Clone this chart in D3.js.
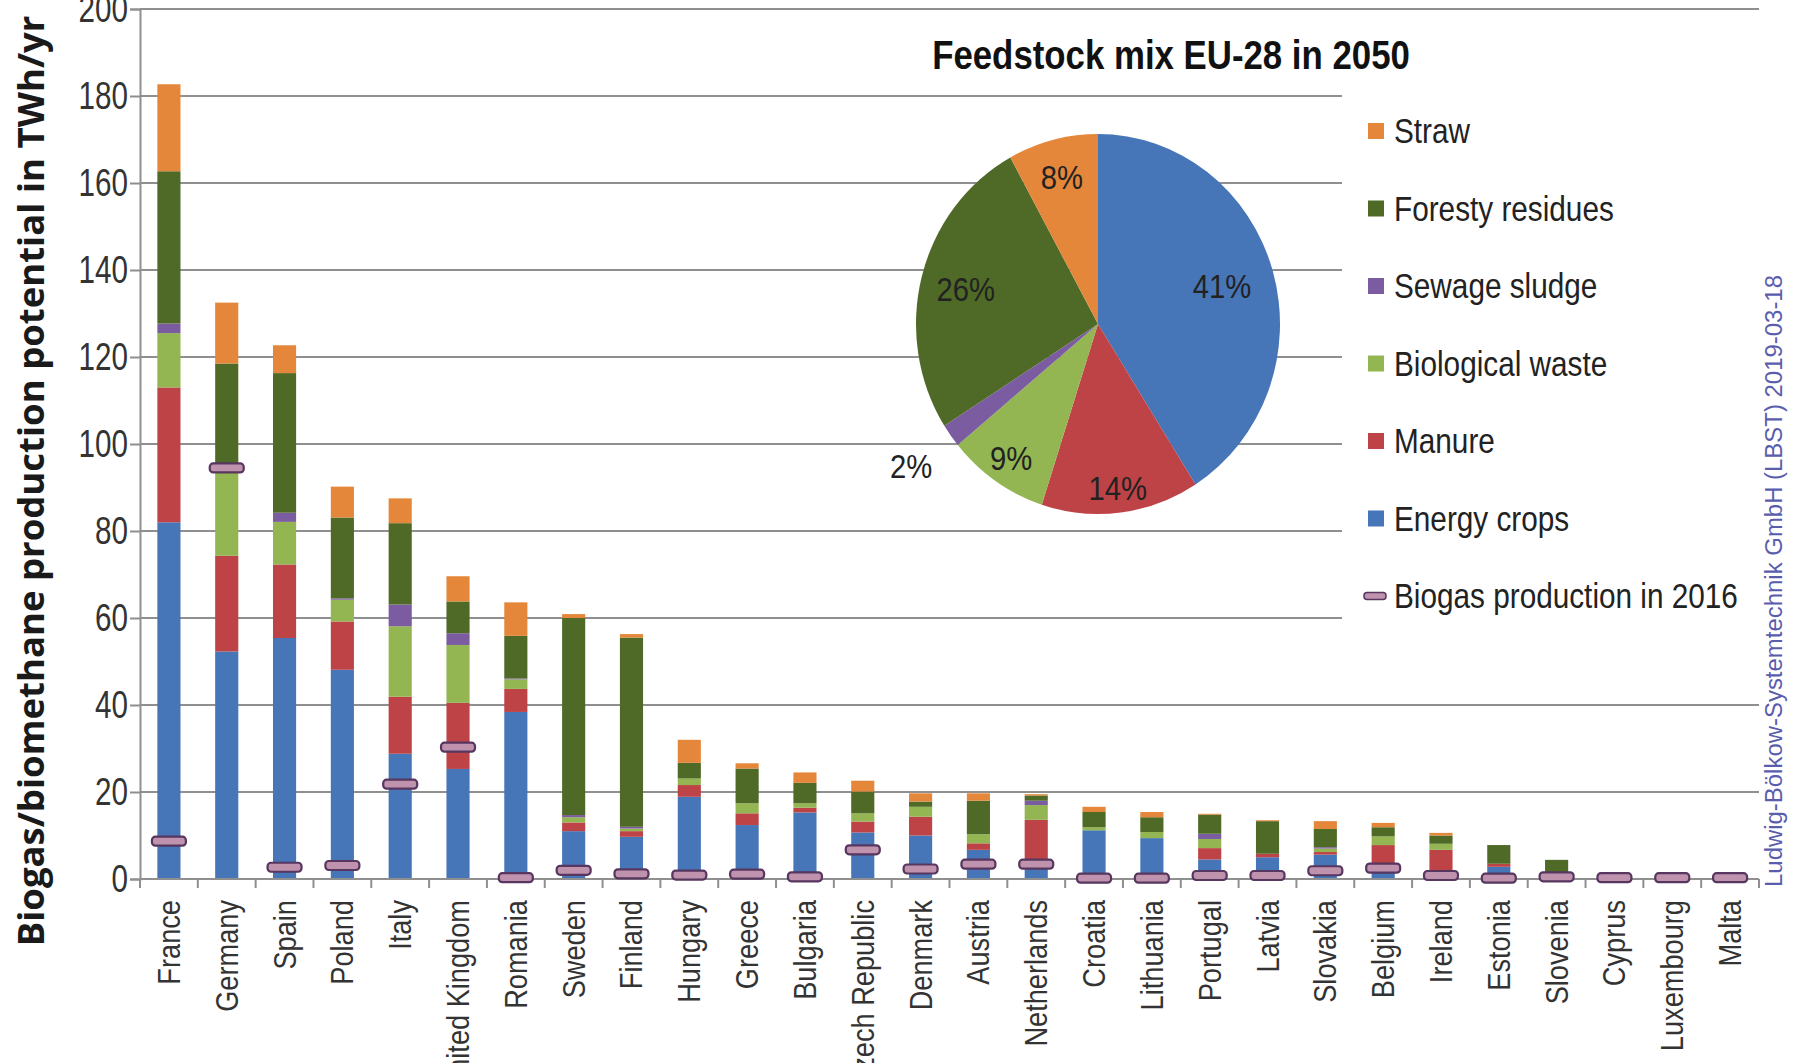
<!DOCTYPE html>
<html>
<head>
<meta charset="utf-8">
<script src="https://cdn.jsdelivr.net/npm/d3@7"></script>
<style>
  html, body { margin: 0; padding: 0; background: #fff; }
  svg { display: block; }
  text { font-family: "Liberation Sans", Arial, sans-serif; fill: #222; }
</style>
</head>
<body>
<svg id="chart" width="1797" height="1063"></svg>
<script>
// Biogas/biomethane production potential per EU-28 country in 2050 (TWh/yr)
const categories = ["France", "Germany", "Spain", "Poland", "Italy", "United Kingdom", "Romania",
  "Sweden", "Finland", "Hungary", "Greece", "Bulgaria", "Czech Republic", "Denmark", "Austria",
  "Netherlands", "Croatia", "Lithuania", "Portugal", "Latvia", "Slovakia", "Belgium", "Ireland",
  "Estonia", "Slovenia", "Cyprus", "Luxembourg", "Malta"];

const energyCrops     = [82, 52.3, 55.4, 48.1, 28.8, 25.3, 38.4, 11.0, 9.7, 18.9, 12.4, 15.3, 10.7, 10.0, 6.7, 3.6, 11.2, 9.4, 4.5, 5.0, 5.6, 3.1, 1.5, 2.8, 0.5, 0.1, 0.1, 0.05];
const manure          = [31, 22.0, 16.9, 11.1, 13.1, 15.2, 5.3, 2.0, 1.3, 2.7, 2.7, 1.1, 2.5, 4.3, 1.5, 10.0, 0, 0, 2.6, 0.8, 0.6, 4.7, 5.2, 0.7, 1.0, 0.2, 0.1, 0.05];
const biologicalWaste = [12.5, 20.0, 9.8, 5.0, 16.2, 13.3, 2.2, 1.2, 0.6, 1.5, 2.3, 1.0, 1.9, 2.3, 2.1, 3.4, 0.7, 1.4, 2.1, 0, 0.8, 2.0, 1.4, 0, 0, 0, 0, 0];
const sewageSludge    = [2.2, 0.3, 2.1, 0.3, 5.0, 2.7, 0.2, 0.5, 0.4, 0, 0, 0, 0, 0, 0, 1.0, 0, 0, 1.2, 0, 0.3, 0, 0, 0, 0, 0, 0, 0];
const forestyResidues = [35, 23.9, 32.1, 18.6, 18.7, 7.3, 9.8, 45.3, 43.5, 3.6, 8.0, 4.7, 5.0, 1.2, 7.7, 1.2, 3.5, 3.4, 4.4, 7.5, 4.2, 2.1, 1.9, 4.3, 2.9, 0, 0, 0];
const straw           = [20, 14.0, 6.4, 7.1, 5.7, 5.8, 7.7, 0.9, 0.8, 5.3, 1.2, 2.4, 2.5, 1.9, 1.7, 0.3, 1.2, 1.2, 0.2, 0.2, 1.8, 1.0, 0.6, 0, 0, 0, 0, 0];
const biogas2016      = [8.7, 94.5, 2.7, 3.1, 21.8, 30.3, 0.3, 2.0, 1.2, 0.9, 1.1, 0.5, 6.7, 2.3, 3.4, 3.4, 0.2, 0.2, 0.8, 0.8, 1.9, 2.5, 0.8, 0.2, 0.5, 0.3, 0.3, 0.3];

// Stack order, bottom to top
const seriesNames  = ["Energy crops", "Manure", "Biological waste", "Sewage sludge", "Foresty residues", "Straw"];
const seriesValues = [energyCrops, manure, biologicalWaste, sewageSludge, forestyResidues, straw];
const seriesColors = ["#4675B8", "#BE4346", "#93B552", "#7B5CA0", "#4F6A27", "#E5873A"];

// Feedstock mix EU-28 in 2050 (share in %), same order as the stack
const pieShares = [41, 14, 9, 2, 26, 8];

const legendNames = ["Straw", "Foresty residues", "Sewage sludge", "Biological waste", "Manure", "Energy crops", "Biogas production in 2016"];
const yTicks = [0, 20, 40, 60, 80, 100, 120, 140, 160, 180, 200];

const svg = d3.select("#chart");
const plot = { left: 140, right: 1759, top: 9, bottom: 879 };

const x = d3.scaleBand().domain(categories).range([plot.left, plot.right]).paddingInner(0.6).paddingOuter(0.3);
const xStep = d3.scaleBand().domain(categories).range([plot.left, plot.right]);
const y = d3.scaleLinear().domain([0, 200]).range([plot.bottom, plot.top]);

const gridColor = "#8f8f8f";
const markerFill = "#BF93AD", markerStroke = "#57365F";

// Condensed lettering: horizontally squeezed text placed at (tx, ty)
function placeText(sel, tx, ty, sx, rot) {
  return sel.attr("transform", (d, i) => {
    const X = typeof tx === "function" ? tx(d, i) : tx;
    const Y = typeof ty === "function" ? ty(d, i) : ty;
    return `translate(${X},${Y})` + (rot ? ` rotate(${rot})` : "") + ` scale(${sx},1)`;
  });
}

// Horizontal gridlines
svg.append("g").selectAll("line").data(yTicks.filter(d => d > 0)).join("line")
  .attr("x1", plot.left).attr("x2", plot.right)
  .attr("y1", d => y(d)).attr("y2", d => y(d))
  .attr("stroke", gridColor).attr("stroke-width", 2);

// Y axis (line and ticks from d3, labels set in condensed lettering)
const yAxis = d3.axisLeft(y).tickValues(yTicks).tickSize(10).tickFormat("");
const gy = svg.append("g").attr("transform", `translate(${plot.left},0)`).call(yAxis);
gy.select(".domain").attr("stroke", gridColor).attr("stroke-width", 2);
gy.selectAll(".tick line").attr("stroke", gridColor).attr("stroke-width", 2);
placeText(svg.append("g").selectAll("text").data(yTicks).join("text"), 128, d => y(d) + 13, 0.78)
  .attr("text-anchor", "end").style("font-size", "38px").style("fill", "#333")
  .text(d => d);

// Stacked bars
const rows = categories.map((c, i) => {
  const r = { country: c };
  seriesNames.forEach((s, k) => r[s] = seriesValues[k][i]);
  return r;
});
const stacked = d3.stack().keys(seriesNames)(rows);
svg.append("g").selectAll("g").data(stacked).join("g")
  .attr("fill", (d, k) => seriesColors[k])
  .selectAll("rect").data(d => d).join("rect")
  .attr("x", d => x(d.data.country))
  .attr("width", x.bandwidth())
  .attr("y", d => y(d[1]))
  .attr("height", d => Math.max(0, y(d[0]) - y(d[1])));

// X axis with category separators
const xAxisG = svg.append("g").attr("transform", `translate(0,${plot.bottom})`);
xAxisG.append("line").attr("x1", plot.left).attr("x2", plot.right)
  .attr("stroke", gridColor).attr("stroke-width", 2);
xAxisG.selectAll("line.sep").data(d3.range(categories.length + 1)).join("line")
  .attr("class", "sep")
  .attr("x1", i => plot.left + i * xStep.step())
  .attr("x2", i => plot.left + i * xStep.step())
  .attr("y1", 0).attr("y2", 9)
  .attr("stroke", gridColor).attr("stroke-width", 2);
placeText(xAxisG.selectAll("text").data(categories).join("text"),
  d => xStep(d) + xStep.bandwidth() / 2 + 11, 21, 0.85, -90)
  .attr("text-anchor", "end")
  .style("font-size", "32px").style("fill", "#333")
  .text(d => d);

// Biogas production in 2016 markers
svg.append("g").selectAll("rect").data(categories).join("rect")
  .attr("x", d => xStep(d) + xStep.bandwidth() / 2 - 17)
  .attr("width", 34)
  .attr("y", (d, i) => y(biogas2016[i]) - 4.5)
  .attr("height", 9)
  .attr("rx", 3.5)
  .attr("fill", markerFill).attr("stroke", markerStroke).attr("stroke-width", 2.2);

// Legend panel
svg.append("rect").attr("x", 1342).attr("y", 80).attr("width", plot.right - 1342 + 1).attr("height", 578).attr("fill", "#fff");
const legend = svg.append("g");
const legendColors = ["#E5873A", "#4F6A27", "#7B5CA0", "#93B552", "#BE4346", "#4675B8"];
legendNames.forEach((name, i) => {
  const cy = 131 + i * 77.5;
  if (i < 6) {
    legend.append("rect").attr("x", 1368).attr("y", cy - 8).attr("width", 16).attr("height", 16).attr("fill", legendColors[i]);
  } else {
    legend.append("rect").attr("x", 1364).attr("y", cy - 3.5).attr("width", 22).attr("height", 7).attr("rx", 3)
      .attr("fill", markerFill).attr("stroke", markerStroke).attr("stroke-width", 1.5);
  }
  placeText(legend.append("text"), 1394, cy + 12, 0.85).style("font-size", "35px").text(name);
});

// Pie: feedstock mix
const pieCx = 1098, pieCy = 324, pieRx = 182, pieRy = 190;
const pie = d3.pie().sort(null).value(d => d)(pieShares);
const arc = d3.arc().innerRadius(0).outerRadius(pieRx);
const pieG = svg.append("g").attr("transform", `translate(${pieCx},${pieCy}) scale(1,${pieRy / pieRx})`);
pieG.selectAll("path").data(pie).join("path")
  .attr("d", arc)
  .attr("fill", (d, i) => seriesColors[i]);

const labelRadius = [0.71, 0.87, 0.85, 1.27, 0.75, 0.80];
const midAngle = d => (d.startAngle + d.endAngle) / 2;
placeText(svg.append("g").selectAll("text").data(pie).join("text"),
  (d, i) => pieCx + labelRadius[i] * pieRx * Math.sin(midAngle(d)),
  (d, i) => pieCy - labelRadius[i] * pieRy * Math.cos(midAngle(d)) + 12, 0.86)
  .attr("text-anchor", "middle")
  .style("font-size", "34px")
  .text(d => d.data + "%");

// Pie title
placeText(svg.append("text"), 1171, 69, 0.87)
  .attr("text-anchor", "middle")
  .style("font-size", "40px").style("font-weight", "bold").style("fill", "#111")
  .text("Feedstock mix EU-28 in 2050");

// Y axis title
svg.append("text")
  .attr("transform", `translate(44,481) rotate(-90)`)
  .attr("text-anchor", "middle")
  .style("font-family", "'Open Sans', 'DejaVu Sans', sans-serif")
  .style("font-size", "36.5px").style("font-weight", "bold").style("fill", "#1a1a1a")
  .text("Biogas/biomethane production potential in TWh/yr");

// Source note
svg.append("text")
  .attr("transform", `translate(1782,581) rotate(-90)`)
  .attr("text-anchor", "middle")
  .attr("textLength", 612).attr("lengthAdjust", "spacingAndGlyphs")
  .style("font-size", "23px").style("fill", "#5A5DAE")
  .text("Ludwig-Bölkow-Systemtechnik GmbH (LBST)  2019-03-18");
</script>
</body>
</html>
